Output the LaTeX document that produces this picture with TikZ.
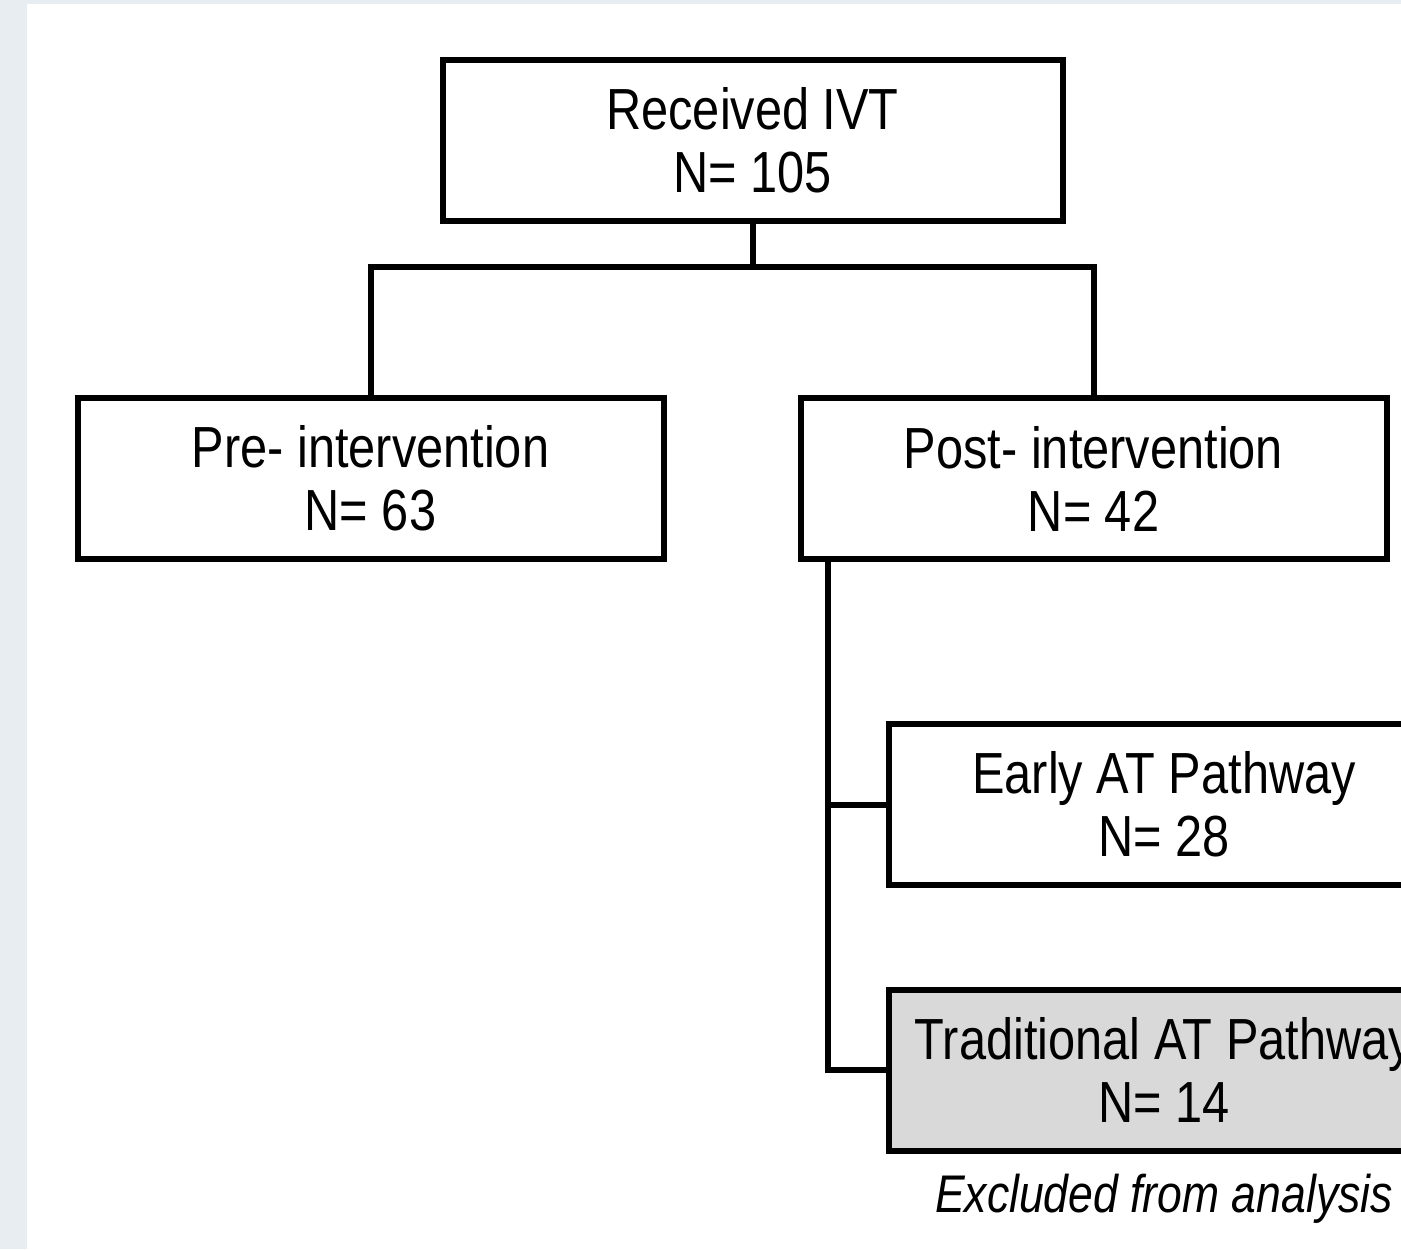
\documentclass[tikz,border=0pt]{standalone}
\usepackage{fontspec}
\setmainfont{Liberation Sans}[FakeStretch=0.84]
\usepackage{tikz}
\usetikzlibrary{positioning, calc}

\begin{document}
\begin{tikzpicture}[x=0.5pt,y=-0.5pt]
\definecolor{panelgrey}{RGB}{232,237,241};
\definecolor{excludedgrey}{RGB}{217,217,217};
\fill [panelgrey] (0,0) rectangle (1401,1249);
\fill [white] (27,4) rectangle (1401,1249);
\useasboundingbox (0,0) rectangle (1401,1249);
\clip (0,0) rectangle (1401,1249);
\tikzstyle{stage}=[draw, line width=3pt, inner sep=0pt,
                   minimum height=80.5pt, align=center,
                   font=\fontsize{29}{31.5}\selectfont]
\tikzstyle{link}=[line width=3pt]
\node [stage, minimum width=310pt] (ivt) at (752.5,140) {Received IVT\\N= 105};
\node [stage, minimum width=293pt] (pre) at (370.5,478.5) {Pre- intervention\\N= 63};
\node [stage, minimum width=293pt] (post) at (1093.5,478.5) {Post- intervention\\N= 42};
\node [stage, minimum width=275pt] (early) at (1164,804.5) {Early AT Pathway\\N= 28};
\node [stage, minimum width=275pt, fill=excludedgrey] (trad) at (1164,1070) {Traditional AT Pathway\\N= 14};
\node [anchor=base, font=\fontsize{26.5}{30}\selectfont\itshape] (excl) at (1164,1212) {Excluded from analysis};
% branches
\coordinate (split) at (752.5,266.5);
\coordinate (spine) at ([xshift=15pt]post.south west);
\draw [link] (ivt.south) -- (split);
\draw [link] (pre.north) |- (split) -| (post.north);
\draw [link] (spine) |- (trad.west);
\draw [link] (spine |- early.west) -- (early.west);
\end{tikzpicture}
\end{document}
